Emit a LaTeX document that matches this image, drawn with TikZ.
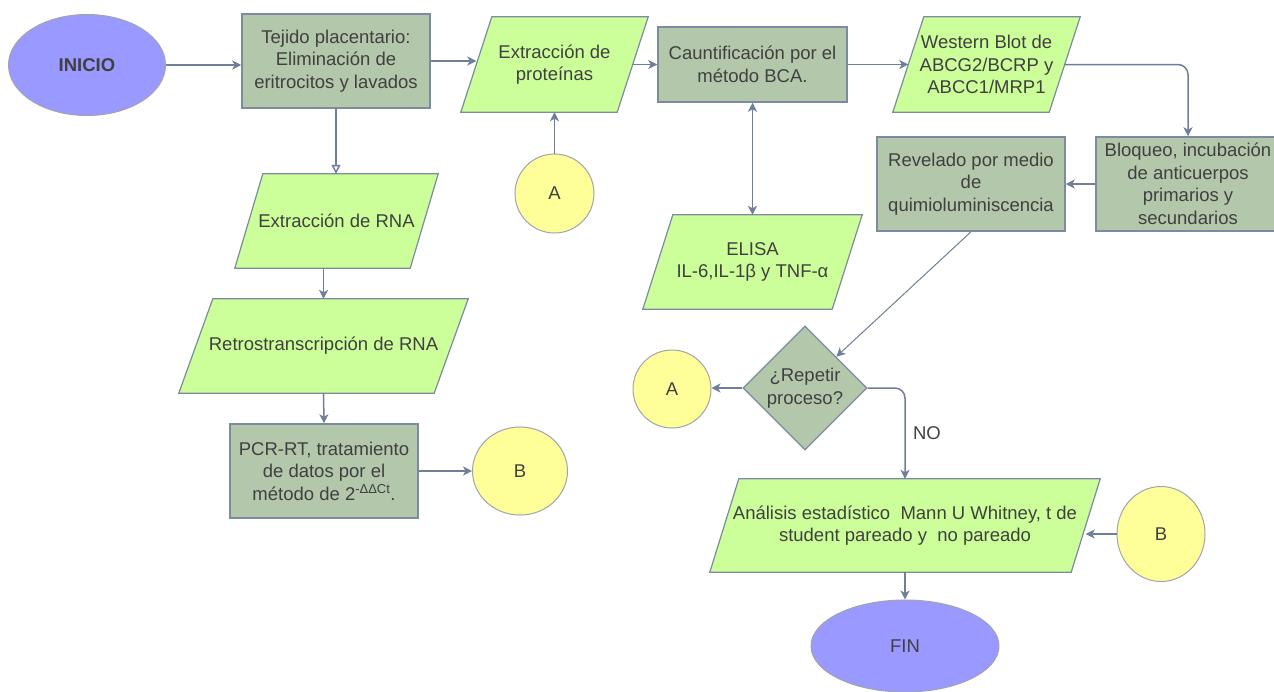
\documentclass[tikz,border=0pt]{standalone}
\usepackage{fontspec}
\setmainfont{Liberation Sans}
\usetikzlibrary{shapes.geometric,arrows.meta,backgrounds}
\definecolor{lg}{HTML}{CCFF99}
\definecolor{gg}{HTML}{B3C7AA}
\definecolor{lav}{HTML}{9999FF}
\definecolor{yel}{HTML}{FFFF99}
\definecolor{bd}{HTML}{7D8BA0}
\definecolor{ebd}{HTML}{A0A4AC}
\definecolor{ar}{HTML}{6F7F99}
\definecolor{tx}{HTML}{404040}
\newcommand{\drawpara}[2]{%
  \filldraw[fill=lg, draw=bd, line width=1.2pt, line join=miter]
    ([xshift=-#2]#1.south west) -- ([xshift=#2]#1.north west) --
    ([xshift=#2]#1.north east) -- ([xshift=-#2]#1.south east) -- cycle;}
\begin{document}
\begin{tikzpicture}[x=1pt,y=-1pt,
  every node/.style={font=\fontsize{18.5}{22.5}\selectfont, text=tx, align=center},
  procbox/.style={rectangle, draw=bd, line width=1.5pt, fill=gg, inner sep=1pt},
  iobox/.style={rectangle, inner sep=0pt},
  termnode/.style={ellipse, draw=ebd, line width=1pt, fill=lav, inner sep=0pt},
  connnode/.style={ellipse, draw=ebd, line width=1pt, fill=yel, inner sep=0pt},
  decnode/.style={diamond, draw=bd, line width=1.2pt, fill=gg, inner sep=-4pt},
  conn/.style={draw=ar, line width=1.5pt, -{Stealth[length=9pt,width=9pt,inset=2.5pt]}},
  conn2/.style={draw=ar, line width=1.5pt, {Stealth[length=9pt,width=9pt,inset=2.5pt]}-{Stealth[length=9pt,width=9pt,inset=2.5pt]}},
  connopen/.style={draw=ar, line width=1.5pt, -{Triangle[open,length=9pt,width=9pt]}}
]
\useasboundingbox (0,0) rectangle (1274,691);

% top row
\node[termnode, minimum width=157pt, minimum height=101pt] (ini) at (87,65) {\bfseries INICIO};
\node[procbox, minimum width=188pt, minimum height=94pt] (tej) at (336,61) {Tejido placentario:\\Eliminación de\\eritrocitos y lavados};
\node[iobox, minimum width=156pt, minimum height=95pt] (prot) at (554.5,64.5) {Extracción de\\proteínas};
\node[procbox, minimum width=189pt, minimum height=75pt] (caunt) at (752.5,64.5) {Cauntificación por el\\método BCA.};
\node[iobox, minimum width=156pt, minimum height=95pt] (wb) at (986.5,64.5) {Western Blot de\\ABCG2/BCRP y\\ABCC1/MRP1};

% right column
\node[procbox, minimum width=184pt, minimum height=94pt] (bloq) at (1188,184) {Bloqueo, incubación\\de anticuerpos\\primarios y\\secundarios};
\node[procbox, minimum width=188pt, minimum height=94pt] (rev) at (971,184) {Revelado por medio\\de\\quimioluminiscencia};

% middle
\node[connnode, minimum width=79pt, minimum height=79pt] (aU) at (554.5,193.5) {A};
\node[iobox, minimum width=189pt, minimum height=94pt] (elisa) at (752.5,262) {ELISA\\IL-6,IL-1β y TNF-α};

% left column
\node[iobox, minimum width=175pt, minimum height=94pt] (rna) at (336.5,221) {Extracción de RNA};
\node[iobox, minimum width=255pt, minimum height=94pt] (retro) at (323.5,346) {Retrostranscripción de RNA};
\node[procbox, minimum width=188pt, minimum height=94pt] (pcr) at (324,471) {PCR-RT, tratamiento\\de datos por el\\método de 2\textsuperscript{-ΔΔCt}.};
\node[connnode, minimum width=95pt, minimum height=88pt] (bL) at (520,471) {B};

% decision and bottom
\node[decnode, minimum width=124pt, minimum height=124pt] (dia) at (805,388) {¿Repetir\\proceso?};
\node[connnode, minimum width=78pt, minimum height=78pt] (aL) at (672,389) {A};
\node[iobox, minimum width=361pt, minimum height=93pt] (anal) at (905,525.5) {Análisis estadístico\ \ Mann U Whitney, t de\\student pareado y\ \ no pareado};
\node[connnode, minimum width=88pt, minimum height=95pt] (bR) at (1161,534) {B};
\node[termnode, minimum width=188pt, minimum height=92pt] (fin) at (905,646) {FIN};

\begin{pgfonlayer}{background}
  \fill[white] (0,0) rectangle (1274,691);
  \drawpara{prot}{15.5pt}
  \drawpara{wb}{15.5pt}
  \drawpara{elisa}{15pt}
  \drawpara{rna}{14pt}
  \drawpara{retro}{17pt}
  \drawpara{anal}{14.5pt}
\end{pgfonlayer}

% connectors
\draw[conn] (ini.east) -- (ini.east -| tej.west);
\draw[conn] (tej.east) -- (tej.east -| prot.west);
\draw[conn] (prot.east) -- (caunt.west);
\draw[conn] (caunt.east) -- (wb.west);
\draw[conn, rounded corners=10pt] (wb.east) -| (bloq.north);
\draw[conn] (bloq.west) -- (rev.east);
\draw[conn, line width=1pt] (rev.south) -- (dia.north east);
\draw[conn] (dia.west) -- (dia.west -| aL.east);
\draw[conn, rounded corners=10pt] (dia.east) -| (anal.north) node[pos=0.75, right=4pt, font=\fontsize{18.5}{22}\selectfont] (nolbl) {NO};
\draw[conn] (bR.west) -- (bR.west -| anal.east);
\draw[conn] (anal.south) -- (fin.north);
\draw[connopen] (tej.south) -- (tej.south |- rna.north);
\draw[conn] (retro.north |- rna.south) -- (retro.north);
\draw[conn] (retro.south) -- (pcr.north);
\draw[conn] (pcr.east) -- (bL.west);
\draw[conn] (aU.north) -- (aU.north |- prot.south);
\draw[conn2] (caunt.south) -- (elisa.north);
\end{tikzpicture}
\end{document}
